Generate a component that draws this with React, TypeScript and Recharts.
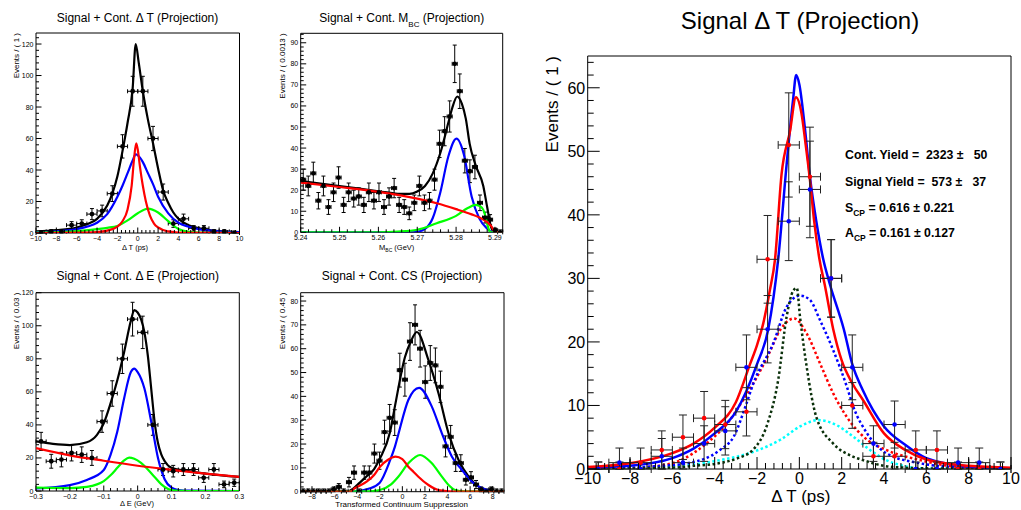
import React from "react";
import { ComposedChart, Line, Scatter, XAxis, YAxis, ErrorBar, ReferenceArea } from "recharts";

const FONT = '"Liberation Sans", Arial, Helvetica, sans-serif';

// ---------------- Panel 1: Signal + Cont. Delta T ----------------
const dtBins = [-9.5, -8.5, -7.5, -6.5, -5.5, -4.5, -3.5, -2.5, -1.5, -0.5, 0.5, 1.5, 2.5, 3.5, 4.5, 5.5, 6.5, 7.5, 8.5, 9.5];
const dtCounts = [0, 1, 1, 5, 6, 12, 14, 25, 55, 90, 90, 60, 26, 6, 9, 3, 3, 1, 1, 0];
const dtErrors = [1.15, 1, 1, 2.2, 2.4, 3.5, 3.7, 5, 7.4, 9.5, 9.5, 7.7, 5.1, 2.4, 3, 1.7, 1.7, 1, 1, 1.15];
const dtTotalX = [-10, -8, -6, -5, -4, -3, -2.5, -2, -1.5, -1, -0.5, -0.2, 0.1, 0.5, 1, 1.5, 2, 2.5, 3, 3.5, 4, 5, 6, 8, 10];
const dtTotalY = [1, 1.8, 3.5, 5.5, 9, 17.5, 25, 36, 52, 70, 92, 120, 108, 90, 72, 57, 41, 27, 19, 13, 9, 5, 3, 1.2, 0.5];
const dtContX = [-10, -8, -6, -5, -4, -3, -2, -1.5, -1, -0.5, -0.2, 0.2, 0.5, 1, 1.5, 2, 3, 4, 5, 6, 8, 10];
const dtContY = [0.5, 1, 2.5, 4, 6.5, 12, 23, 30, 38, 46, 50, 48, 45, 38, 31, 23, 12.5, 6.5, 4, 2.5, 1, 0.5];
const dtSigX = [-10, -5, -4, -3, -2, -1.5, -1, -0.6, -0.35, -0.15, 0, 0.2, 0.5, 0.8, 1.2, 1.6, 2, 3, 4, 5, 10];
const dtSigY = [0, 0.2, 0.5, 1.5, 4, 7.5, 15, 30, 48, 57, 53, 43, 30, 20, 11, 6, 3.5, 1, 0.3, 0.1, 0];
const dtBkgX = [-10, -8, -6, -4, -3, -2, -1, 0, 1, 2, 3, 4, 5, 6, 8, 10];
const dtBkgY = [0.3, 0.6, 1.2, 2.5, 3.3, 4.5, 8, 12.5, 15.5, 13, 7.5, 2.5, 0.7, 0.2, 0.05, 0];

// ---------------- Panel 2: M_BC ----------------
const mbcBins = [5.24065, 5.24195, 5.24325, 5.24455, 5.24585, 5.24715, 5.24845, 5.24975, 5.25105, 5.25235,
  5.25365, 5.25495, 5.25625, 5.25755, 5.25885, 5.26015, 5.26145, 5.26275, 5.26405, 5.26535,
  5.26665, 5.26795, 5.26925, 5.27055, 5.27185, 5.27315, 5.27445, 5.27575, 5.27705, 5.27835,
  5.27965, 5.28095, 5.28225, 5.28355, 5.28485, 5.28615, 5.28745, 5.28875, 5.29005, 5.29135];
const mbcCounts = [25, 22, 28, 15, 22, 12, 19, 26, 13, 19, 16, 17, 13, 19, 15, 19, 12, 17, 21, 13,
  12, 9, 14, 22, 14, 15, 25, 42, 48, 55, 80, 67, 34, 29, 31, 14, 7, 6, 1, 0];
const mbcErrors = [5, 4.7, 5.3, 3.9, 4.7, 3.5, 4.4, 5.1, 3.6, 4.4, 4, 4.1, 3.6, 4.4, 3.9, 4.4, 3.5, 4.1, 4.6, 3.6,
  3.5, 3, 3.7, 4.7, 3.7, 3.9, 5, 6.5, 6.9, 7.4, 8.9, 8.2, 5.8, 5.4, 5.6, 3.7, 2.6, 2.4, 1, 1.15];
const mbcTotalX = [5.24, 5.25, 5.26, 5.265, 5.268, 5.27, 5.272, 5.274, 5.276, 5.278, 5.279, 5.2803, 5.2815, 5.2825, 5.2835, 5.285, 5.287, 5.288, 5.289, 5.2895, 5.29, 5.292];
const mbcTotalY = [24.4, 22, 19.5, 18.3, 18.2, 19.4, 22, 28, 38, 52, 59, 64.5, 61, 54, 42, 32, 22, 12, 2.5, 0.5, 0, 0];
const mbcContX = [5.24, 5.25, 5.26, 5.27, 5.275, 5.28, 5.284, 5.286, 5.288, 5.289, 5.2895, 5.29, 5.292];
const mbcContY = [23.6, 21.5, 19.2, 16, 13.8, 11, 8.5, 7, 4.8, 3, 1.5, 0, 0];
const mbcSigX = [5.24, 5.268, 5.27, 5.272, 5.274, 5.276, 5.278, 5.2801, 5.282, 5.284, 5.286, 5.288, 5.289, 5.29, 5.292];
const mbcSigY = [0, 0, 0.25, 1.6, 6.8, 19.4, 36, 44.5, 37, 17, 6.5, 1.8, 0.3, 0, 0];
const mbcBkgX = [5.24, 5.26, 5.265, 5.27, 5.275, 5.28, 5.283, 5.285, 5.2865, 5.2875, 5.288, 5.2885, 5.289, 5.292];
const mbcBkgY = [0, 0, 0.3, 1.2, 4.3, 7.8, 11.5, 13, 12, 8, 4, 1, 0, 0];

// ---------------- Panel 3: Delta E ----------------
const deBins = [-0.285, -0.255, -0.225, -0.195, -0.165, -0.135, -0.105, -0.075, -0.045, -0.015,
  0.015, 0.045, 0.075, 0.105, 0.135, 0.165, 0.195, 0.225, 0.255, 0.285];
const deCounts = [30, 18, 19, 23, 22, 20, 42, 59, 80, 104, 96, 40, 13, 12, 13, 13, 8, 13, 4, 5];
const deErrors = [5.5, 4.2, 4.4, 4.8, 4.7, 4.5, 6.5, 7.7, 8.9, 10.2, 9.8, 6.3, 3.6, 3.5, 3.6, 3.6, 2.8, 3.6, 2, 2.2];
const deTotalX = [-0.3, -0.25, -0.2, -0.15, -0.12, -0.1, -0.08, -0.06, -0.04, -0.02, -0.01, 0, 0.01, 0.02, 0.03, 0.04, 0.05, 0.06, 0.07, 0.08, 0.1, 0.15, 0.2, 0.3];
const deTotalY = [30, 28.5, 27.8, 29.5, 34, 41, 53, 67, 84, 103, 109.5, 108, 104, 96, 82, 62, 42, 29, 22, 18, 14, 12, 10.5, 8.5];
const deSigX = [-0.3, -0.2, -0.15, -0.1, -0.08, -0.06, -0.04, -0.02, -0.01, 0, 0.02, 0.04, 0.06, 0.08, 0.1, 0.12, 0.15, 0.3];
const deSigY = [1.5, 3.6, 6.7, 12.7, 21.8, 36, 56, 72, 74, 72, 62, 42, 20, 7, 2, 0.6, 0.2, 0];
const deBkgX = [-0.3, -0.2, -0.15, -0.12, -0.1, -0.08, -0.06, -0.04, -0.025, -0.01, 0.01, 0.03, 0.05, 0.07, 0.09, 0.11, 0.15, 0.3];
const deBkgY = [2, 1.8, 2.5, 4, 6, 9.5, 14, 18.5, 20.2, 19.5, 17, 13, 8.5, 4, 1.2, 0.2, 0, 0];
const deContX = [-0.3, -0.2, -0.1, 0, 0.1, 0.2, 0.3];
const deContY = [26, 21.6, 18.3, 15.3, 12.8, 10.5, 8.5];

// ---------------- Panel 4: Continuum suppression ----------------
const csBins = [-8.775, -8.325, -7.875, -7.425, -6.975, -6.525, -6.075, -5.625, -5.175, -4.725,
  -4.275, -3.825, -3.375, -2.925, -2.475, -2.025, -1.575, -1.125, -0.675, -0.225,
  0.225, 0.675, 1.125, 1.575, 2.025, 2.475, 2.925, 3.375, 3.825, 4.275,
  4.725, 5.175, 5.625, 6.075, 6.525, 6.975, 7.425, 7.875, 8.325, 8.775];
const csCounts = [0, 0, 0, 0, 0, 0, 1, 2, 0, 4, 8, 0, 8, 8, 16, 13, 25, 31, 29, 51,
  47, 63, 70, 60, 46, 54, 53, 44, 19, 23, 12, 12, 5, 6, 3, 1, 0, 1, 0, 0];
const csErrors = [1.15, 1.15, 1.15, 1.15, 1.15, 1.15, 1, 1.4, 1.15, 2, 2.8, 1.15, 2.8, 2.8, 4, 3.6, 5, 5.6, 5.4, 7.1,
  6.9, 7.9, 8.4, 7.7, 6.8, 7.3, 7.3, 6.6, 4.4, 4.8, 3.5, 3.5, 2.2, 2.4, 1.7, 1, 1.15, 1, 1.15, 1.15];
const csTotalX = [-9, -4.9, -4.5, -4, -3.16, -2.5, -1.98, -1.09, -0.65, 0.24, 0.75, 1.28, 2.31, 3.2, 4.09, 4.98, 5.87, 6.76, 7.65, 9];
const csTotalY = [0, 0, 0.8, 2.8, 6.5, 9.5, 14, 25, 36, 56.6, 63, 67, 55.2, 41.3, 24.5, 13.3, 6.3, 2.1, 0.5, 0];
const csSigX = [-9, -4.4, -3, -2, -1.1, -0.65, -0.36, 0.53, 1.48, 2.61, 3.5, 4.39, 5.28, 6.17, 7.06, 8, 9];
const csSigY = [0, 0, 1.2, 3.8, 13, 19, 24, 38.5, 43.6, 35.7, 24.5, 14.7, 9.1, 4.2, 1.4, 0.3, 0];
const csBkgX = [-9, -3, -2, -1, -0.36, 0.53, 1.57, 2.61, 3.5, 4.09, 4.68, 5.5, 9];
const csBkgY = [0, 0.1, 0.7, 3.1, 6.3, 11.9, 15.4, 11.9, 6.3, 2.8, 0.7, 0.1, 0];
const csContX = [-9, -4.6, -4.3, -4, -3.16, -2.5, -1.98, -1.3, -0.6, 0, 0.53, 1.0, 1.42, 2.31, 3.2, 4.1, 5, 9];
const csContY = [0, 0, 1.2, 2, 4.2, 7, 10.5, 13.3, 14.7, 13.7, 10.5, 8.3, 6.3, 2.8, 0.7, 0.2, 0, 0];

// ---------------- Panel 5: Signal Delta T ----------------
const sdtBins = [-9.5, -8.5, -7.5, -6.5, -5.5, -4.5, -3.5, -2.5, -1.5, -0.5, 0.5, 1.5, 2.5, 3.5, 4.5, 5.5, 6.5, 7.5, 8.5, 9.5];
const sdtRed = [0, 0, 1, 3, 5, 8, 7, 9, 33, 51, 46, 30, 10, 2, 2, 3, 3, 0, 0, 0];
const sdtRedErr = [1.1, 1.1, 2.3, 3, 3.5, 4.2, 3.8, 3.8, 6.9, 8.2, 7.8, 6.1, 3.6, 2.2, 2.2, 3, 3, 1.1, 1.1, 1.1];
const sdtBlue = [0, 1, 0, 2, 1, 4, 6, 16, 22, 39, 44, 30, 16, 4, 7, 0, 0, 1, 1, 0];
const sdtBlueErr = [1.1, 2.3, 1.1, 2.8, 2.3, 2.8, 3.8, 5.1, 5.3, 6.2, 7.6, 6.1, 5.1, 2.8, 3.7, 1.1, 1.1, 2.3, 2.3, 1.1];
const sdtRedFitX = [-10, -8, -6, -5, -4, -3, -2.33, -2, -1.7, -1.4, -1.15, -0.84, -0.44, -0.16, 0.1, 0.3, 0.5, 0.7, 0.95, 1.2, 1.6, 2, 2.5, 3, 4, 5, 6, 8, 10];
const sdtRedFitY = [0.3, 0.9, 2.5, 4, 6.5, 10.5, 16.5, 19.5, 23, 28, 33, 46.4, 53.2, 58.5, 56, 51, 45.5, 39, 33, 29, 22, 17.1, 13.5, 10.9, 5.6, 3, 1.5, 0.5, 0.2];
const sdtBlueFitX = [-10, -8, -6, -5, -4, -3, -2, -1.47, -1, -0.6, -0.3, -0.15, 0, 0.25, 0.5, 0.8, 1.13, 1.45, 2.1, 2.5, 3, 4, 5, 6, 8, 10];
const sdtBlueFitY = [0.2, 0.5, 1.7, 3.2, 5.6, 9, 16.5, 22, 33, 48, 58, 62, 60.5, 54, 46, 39, 33, 29, 22, 16.5, 12.4, 6.7, 3.8, 1.7, 0.4, 0.1];
const sdtResX = [-10, -6, -5, -4, -3, -2.2, -1.5, -1, -0.6, -0.3, -0.12, 0.03, 0.35, 0.8, 1.6, 2.5, 3, 4, 5, 6, 10];
const sdtResY = [0, 0.2, 0.5, 0.8, 1.6, 3, 7.2, 14, 24, 28, 28.5, 24, 16, 8.2, 4, 2, 1.4, 0.5, 0.2, 0.1, 0];
const sdtBlueCompX = [-10, -8.5, -6.9, -5.3, -3.75, -3.1, -2.5, -2.17, -1.23, -0.6, 0.03, 0.5, 0.98, 1.6, 2.24, 2.55, 3.2, 4.1, 5.7, 7.3, 10];
const sdtBlueCompY = [0, 0.1, 0.4, 0.9, 3, 5.1, 10.3, 13.5, 19.8, 25.5, 27.3, 26.6, 23.4, 18.7, 13, 9.8, 5.6, 2.5, 0.9, 0.3, 0];
const sdtRedCompX = [-10, -8.5, -6.9, -5.6, -4.4, -3.4, -2.65, -2.17, -1.5, -0.9, -0.25, 0.35, 0.98, 1.6, 2.24, 3.2, 4.1, 5.7, 7.3, 10];
const sdtRedCompY = [0, 0.1, 0.4, 1.4, 4, 7.2, 10.9, 13.5, 17.7, 21.9, 23.7, 21.3, 16.6, 11.9, 8.2, 4.6, 3, 1.4, 0.4, 0];
const sdtCyanX = [-10, -8.5, -5.3, -3.75, -2.17, -0.9, 0.03, 0.9, 1.76, 2.55, 3.34, 4.1, 4.9, 5.7, 7, 10];
const sdtCyanY = [0, 0.1, 0.6, 1.4, 2.7, 4.6, 6.7, 7.7, 6.9, 5.1, 3, 1.4, 0.5, 0.1, 0, 0];

// ---------------- Tick labels ----------------
const dtTicks = [-10, -8, -6, -4, -2, 0, 2, 4, 6, 8, 10];
const p1YTicks = [0, 20, 40, 60, 80, 100, 120];
const mbcTicks = [5.24, 5.25, 5.26, 5.27, 5.28, 5.29];
const p2YTicks = [0, 10, 20, 30, 40, 50, 60, 70, 80, 90];
const deTicks = [-0.3, -0.2, -0.1, 0, 0.1, 0.2, 0.3];
const p3YTicks = [0, 20, 40, 60, 80, 100, 120];
const csTicks = [-8, -6, -4, -2, 0, 2, 4, 6, 8];
const p4YTicks = [0, 10, 20, 30, 40, 50, 60, 70, 80];
const p5YTicks = [0, 10, 20, 30, 40, 50, 60];

// ---------------- helpers ----------------
const zip = (xs: number[], ys: number[]) => xs.map((x, i) => ({ x, y: ys[i] }));
const mkPts = (xs: number[], ys: number[], es: number[], hw: number) =>
  xs.map((x, i) => ({ x, y: ys[i], ey: [Math.min(ys[i], es[i]), es[i]], ex: hw }));

function minorTicks(domain: [number, number], step: number): number[] {
  const out: number[] = [];
  const start = Math.ceil(domain[0] / step - 1e-6);
  const end = Math.floor(domain[1] / step + 1e-6);
  for (let i = start; i <= end; i++) out.push(+(i * step).toFixed(6));
  return out;
}
function mergeTicks(major: number[], minor: number[]): number[] {
  const m = new Map<string, number>();
  [...major, ...minor].forEach((v) => m.set(v.toFixed(6), v));
  return Array.from(m.values()).sort((a, b) => a - b);
}
const minus = (s: string) => s.replace("-", "\u2212");
const fmtInt = (v: number) => minus(String(Math.round(v * 1000) / 1000));
const fmt2 = (v: number) => v.toFixed(2);

type TickCfg = { majors: number[]; fmt: (v: number) => string; big: number; small: number; fs: number; off: number };

function makeXTick(o: TickCfg) {
  return (props: any) => {
    const { x, y, payload } = props;
    const v = payload.value as number;
    const isMajor = o.majors.some((m) => Math.abs(m - v) < 1e-7);
    return (
      <g>
        <line x1={x} x2={x} y1={y} y2={y - (isMajor ? o.big : o.small)} stroke="#000" strokeWidth={1} />
        {isMajor ? (
          <text x={x} y={y + o.off} textAnchor="middle" fontSize={o.fs} fontFamily={FONT} fill="#000">
            {o.fmt(v)}
          </text>
        ) : null}
      </g>
    );
  };
}
function makeYTick(o: TickCfg) {
  return (props: any) => {
    const { x, y, payload } = props;
    const v = payload.value as number;
    const isMajor = o.majors.some((m) => Math.abs(m - v) < 1e-7);
    return (
      <g>
        <line x1={x} x2={x + (isMajor ? o.big : o.small)} y1={y} y2={y} stroke="#000" strokeWidth={1} />
        {isMajor ? (
          <text x={x - o.off} y={y + o.fs * 0.36} textAnchor="end" fontSize={o.fs} fontFamily={FONT} fill="#000">
            {o.fmt(v)}
          </text>
        ) : null}
      </g>
    );
  };
}

type Curve = { xs: number[]; ys: number[]; color: string; width: number; dash?: string };
type PtSet = { xs: number[]; ys: number[]; es: number[]; hw: number; color: string; bar: string; r: number; cap: number };
type PanelProps = {
  left: number; top: number; width: number; height: number;
  margin: { top: number; right: number; bottom: number; left: number };
  xAxisH: number; yAxisW: number;
  xDomain: [number, number]; yDomain: [number, number];
  xMajor: number[]; xMinor: number; yMajor: number[]; yMinor: number;
  xFmt: (v: number) => string; yFmt: (v: number) => string;
  fs: number; xOff: number; yOff: number; big: number; small: number;
  curves: Curve[]; points: PtSet[]; pointsOnTop?: boolean;
};

function Panel(p: PanelProps) {
  const xTicks = mergeTicks(p.xMajor, minorTicks(p.xDomain, p.xMinor));
  const yTicks = mergeTicks(p.yMajor, minorTicks(p.yDomain, p.yMinor));
  const XT = makeXTick({ majors: p.xMajor, fmt: p.xFmt, big: p.big, small: p.small, fs: p.fs, off: p.xOff });
  const YT = makeYTick({ majors: p.yMajor, fmt: p.yFmt, big: p.big, small: p.small, fs: p.fs, off: p.yOff });
  const pointEls = p.points.map((ps, i) => (
    <Scatter
      key={"pts" + i}
      data={mkPts(ps.xs, ps.ys, ps.es, ps.hw)}
      dataKey="y"
      isAnimationActive={false}
      shape={(s: any) => <circle cx={s.cx} cy={s.cy} r={ps.r} fill={ps.color} />}
    >
      <ErrorBar dataKey="ex" direction="x" width={ps.cap} stroke={ps.bar} strokeWidth={1} isAnimationActive={false} />
      <ErrorBar dataKey="ey" direction="y" width={ps.cap} stroke={ps.bar} strokeWidth={1} isAnimationActive={false} />
    </Scatter>
  ));
  const curveEls = p.curves.map((c, i) => (
    <Line
      key={"c" + i}
      data={zip(c.xs, c.ys)}
      dataKey="y"
      type="monotone"
      stroke={c.color}
      strokeWidth={c.width}
      strokeDasharray={c.dash}
      dot={false}
      activeDot={false}
      isAnimationActive={false}
    />
  ));
  return (
    <div style={{ position: "absolute", left: p.left, top: p.top }}>
      <ComposedChart width={p.width} height={p.height} margin={p.margin}>
        <XAxis
          type="number"
          dataKey="x"
          domain={p.xDomain}
          allowDataOverflow
          ticks={xTicks}
          interval={0}
          tick={XT}
          tickLine={false}
          axisLine={false}
          tickSize={0}
          tickMargin={0}
          height={p.xAxisH}
        />
        <YAxis
          type="number"
          dataKey="y"
          domain={p.yDomain}
          allowDataOverflow
          ticks={yTicks}
          interval={0}
          tick={YT}
          tickLine={false}
          axisLine={false}
          tickSize={0}
          tickMargin={0}
          width={p.yAxisW}
        />
        {p.pointsOnTop ? curveEls : pointEls}
        {p.pointsOnTop ? pointEls : curveEls}
        <ReferenceArea
          x1={p.xDomain[0]}
          x2={p.xDomain[1]}
          y1={p.yDomain[0]}
          y2={p.yDomain[1]}
          fill="none"
          fillOpacity={0}
          stroke="#000"
          strokeWidth={1}
          strokeOpacity={1}
        />
      </ComposedChart>
    </div>
  );
}

const BLACK = "#000000";
const BLUE = "#0000ff";
const RED = "#ff0000";
const GREEN = "#00ff00";
const CYAN = "#00ffff";
const DKGREEN = "#0a300a";
const LW = 2.2;

const small = { fs: 7, xOff: 7.5, yOff: 2.5, big: 5.5, small: 3 };
const pre: React.CSSProperties = { whiteSpace: "pre" };

export default function App() {
  const dataPts = (xs: number[], ys: number[], es: number[], hw: number): PtSet => ({
    xs, ys, es, hw, color: "#000", bar: "#000", r: 2.4, cap: 2,
  });
  return (
    <div style={{ position: "absolute", left: 0, top: 0, width: 1021, height: 510, background: "#fff", overflow: "hidden" }}>
      <Panel
        left={0} top={0} width={250} height={255}
        margin={{ top: 33, right: 10.5, bottom: 2, left: 6 }}
        xAxisH={20} yAxisW={30}
        xDomain={[-10, 10]} yDomain={[0, 127]}
        xMajor={dtTicks} xMinor={0.4} yMajor={p1YTicks} yMinor={4}
        xFmt={fmtInt} yFmt={fmtInt}
        {...small}
        points={[dataPts(dtBins, dtCounts, dtErrors, 0.5)]}
        curves={[
          { xs: dtTotalX, ys: dtTotalY, color: BLACK, width: LW },
          { xs: dtContX, ys: dtContY, color: BLUE, width: LW },
          { xs: dtBkgX, ys: dtBkgY, color: GREEN, width: LW },
          { xs: dtSigX, ys: dtSigY, color: RED, width: LW },
        ]}
      />
      <Panel
        left={250} top={0} width={260} height={255}
        margin={{ top: 33.3, right: 7.3, bottom: 2.7, left: 20.7 }}
        xAxisH={20} yAxisW={30}
        xDomain={[5.24, 5.292]} yDomain={[0, 94.5]}
        xMajor={mbcTicks} xMinor={0.002} yMajor={p2YTicks} yMinor={2}
        xFmt={fmt2} yFmt={fmtInt}
        {...small}
        points={[dataPts(mbcBins, mbcCounts, mbcErrors, 0.00065)]}
        curves={[
          { xs: mbcTotalX, ys: mbcTotalY, color: BLACK, width: LW },
          { xs: mbcSigX, ys: mbcSigY, color: BLUE, width: LW },
          { xs: mbcBkgX, ys: mbcBkgY, color: GREEN, width: LW },
          { xs: mbcContX, ys: mbcContY, color: RED, width: LW },
        ]}
      />
      <Panel
        left={0} top={255} width={250} height={255}
        margin={{ top: 37.7, right: 10.7, bottom: 4, left: 6 }}
        xAxisH={15} yAxisW={30}
        xDomain={[-0.3, 0.3]} yDomain={[0, 120]}
        xMajor={deTicks} xMinor={0.02} yMajor={p3YTicks} yMinor={4}
        xFmt={fmtInt} yFmt={fmtInt}
        {...small}
        points={[dataPts(deBins, deCounts, deErrors, 0.015)]}
        curves={[
          { xs: deTotalX, ys: deTotalY, color: BLACK, width: LW },
          { xs: deSigX, ys: deSigY, color: BLUE, width: LW },
          { xs: deBkgX, ys: deBkgY, color: GREEN, width: LW },
          { xs: deContX, ys: deContY, color: RED, width: LW },
        ]}
      />
      <Panel
        left={250} top={255} width={260} height={255}
        margin={{ top: 37.7, right: 6, bottom: 3.3, left: 20.7 }}
        xAxisH={15} yAxisW={30}
        xDomain={[-9, 9]} yDomain={[0, 83.5]}
        xMajor={csTicks} xMinor={0.4} yMajor={p4YTicks} yMinor={2}
        xFmt={fmtInt} yFmt={fmtInt}
        {...small}
        points={[dataPts(csBins, csCounts, csErrors, 0.225)]}
        curves={[
          { xs: csTotalX, ys: csTotalY, color: BLACK, width: LW },
          { xs: csSigX, ys: csSigY, color: BLUE, width: LW },
          { xs: csBkgX, ys: csBkgY, color: GREEN, width: LW },
          { xs: csContX, ys: csContY, color: RED, width: LW },
        ]}
      />
      <Panel
        left={520} top={0} width={501} height={510}
        margin={{ top: 56, right: 10, bottom: 11, left: 7.7 }}
        xAxisH={30} yAxisW={60}
        xDomain={[-10, 10]} yDomain={[0, 65]}
        xMajor={dtTicks} xMinor={0.4} yMajor={p5YTicks} yMinor={2}
        xFmt={fmtInt} yFmt={fmtInt}
        fs={16} xOff={14.5} yOff={2.5} big={12} small={6}
        pointsOnTop
        points={[
          { xs: sdtBins, ys: sdtRed, es: sdtRedErr, hw: 0.5, color: RED, bar: "#222", r: 2.3, cap: 4 },
          { xs: sdtBins, ys: sdtBlue, es: sdtBlueErr, hw: 0.5, color: BLUE, bar: "#222", r: 2.3, cap: 4 },
        ]}
        curves={[
          { xs: sdtCyanX, ys: sdtCyanY, color: CYAN, width: 2.5, dash: "2.5 2.5" },
          { xs: sdtRedCompX, ys: sdtRedCompY, color: RED, width: 2.5, dash: "2.5 2.5" },
          { xs: sdtBlueCompX, ys: sdtBlueCompY, color: BLUE, width: 2.5, dash: "2.5 2.5" },
          { xs: sdtResX, ys: sdtResY, color: DKGREEN, width: 2.5, dash: "2.5 2.5" },
          { xs: sdtBlueFitX, ys: sdtBlueFitY, color: BLUE, width: 2.5 },
          { xs: sdtRedFitX, ys: sdtRedFitY, color: RED, width: 2.5 },
        ]}
      />
      <svg
        width={1021}
        height={510}
        style={{ position: "absolute", left: 0, top: 0, pointerEvents: "none" }}
        fontFamily={FONT}
      >
        {/* titles */}
        <text x={137.5} y={22} textAnchor="middle" fontSize={12} fill="#000">Signal + Cont. Δ T (Projection)</text>
        <text x={401.7} y={22} textAnchor="middle" fontSize={12} fill="#000">
          Signal + Cont. M<tspan fontSize={8} dy={4.5}>BC</tspan><tspan dy={-4.5}> (Projection)</tspan>
        </text>
        <text x={137.7} y={280} textAnchor="middle" fontSize={12} fill="#000">Signal + Cont. Δ E (Projection)</text>
        <text x={402} y={280} textAnchor="middle" fontSize={12} fill="#000">Signal + Cont. CS (Projection)</text>
        <text x={800} y={29} textAnchor="middle" fontSize={24} fill="#000">Signal Δ T (Projection)</text>

        {/* y titles */}
        <text transform="translate(18.5,33) rotate(-90)" textAnchor="end" fontSize={8} fill="#000">Events / ( 1 )</text>
        <text transform="translate(284.5,33.3) rotate(-90)" textAnchor="end" fontSize={8} fill="#000">Events / ( 0.0013 )</text>
        <text transform="translate(18.5,292.7) rotate(-90)" textAnchor="end" fontSize={8} fill="#000">Events / ( 0.03 )</text>
        <text transform="translate(284.5,292.7) rotate(-90)" textAnchor="end" fontSize={8} fill="#000">Events / ( 0.45 )</text>
        <text transform="translate(558,56) rotate(-90)" textAnchor="end" fontSize={17} fill="#000">Events / ( 1 )</text>

        {/* x titles */}
        <text x={135} y={249.5} textAnchor="middle" fontSize={7.5} fill="#000">Δ T (ps)</text>
        <text x={396.7} y={249.5} textAnchor="middle" fontSize={7.5} fill="#000">
          M<tspan fontSize={5} dy={2}>BC</tspan><tspan dy={-2}> (GeV)</tspan>
        </text>
        <text x={137} y={506} textAnchor="middle" fontSize={7.5} fill="#000">Δ E (GeV)</text>
        <text x={401.7} y={506.5} textAnchor="middle" fontSize={8} fill="#000">Transformed Continuum Suppression</text>
        <text x={800.8} y={501.5} textAnchor="middle" fontSize={17} fill="#000">Δ T (ps)</text>

        {/* fit results */}
        <g fontWeight="bold" fontSize={12.3} fill="#000">
          <text x={845} y={159} xmlSpace="preserve" style={pre}>{"Cont. Yield =  2323 \u00b1   50"}</text>
          <text x={845} y={186} xmlSpace="preserve" style={pre}>{"Signal Yield =  573 \u00b1   37"}</text>
          <text x={845} y={212} xmlSpace="preserve" style={pre}>
            S<tspan fontSize={8.5} dy={3.5}>CP</tspan><tspan dy={-3.5}>{" = 0.616 \u00b1 0.221"}</tspan>
          </text>
          <text x={845} y={237} xmlSpace="preserve" style={pre}>
            A<tspan fontSize={8.5} dy={3.5}>CP</tspan><tspan dy={-3.5}>{" = 0.161 \u00b1 0.127"}</tspan>
          </text>
        </g>
      </svg>
    </div>
  );
}
